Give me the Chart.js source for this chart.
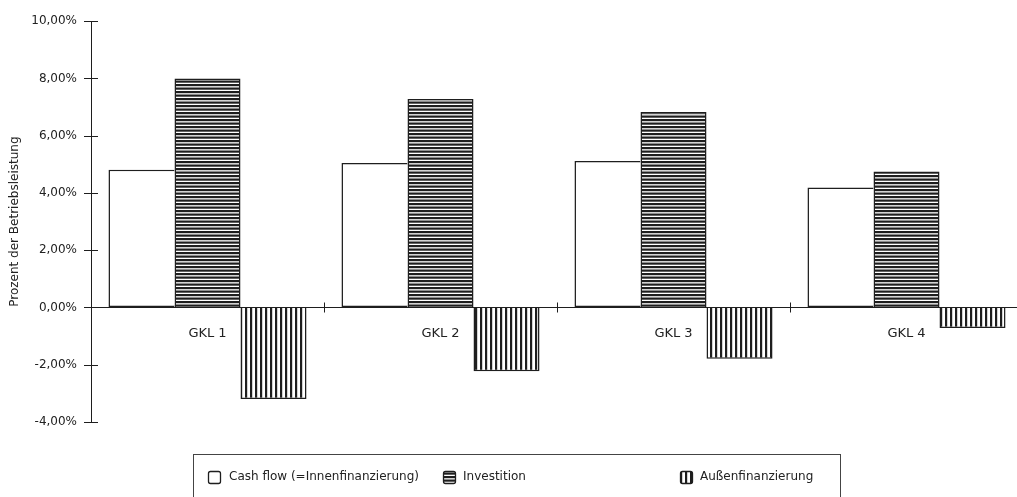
<!DOCTYPE html>
<html>
<head>
<meta charset="utf-8">
<script src="https://cdn.jsdelivr.net/npm/chart.js@4.4.1/dist/chart.umd.min.js"></script>
<style>
  html, body { margin: 0; padding: 0; background: #fff; overflow: hidden; }
  #wrap { position: relative; width: 1023px; height: 497px; }
</style>
</head>
<body>
<div id="wrap"><canvas id="chart"></canvas></div>
<script>
// --- Data ---
const categories = ['GKL 1', 'GKL 2', 'GKL 3', 'GKL 4'];
const seriesNames = ['Cash flow (=Innenfinanzierung)', 'Investition', 'Außenfinanzierung'];
const cashFlow = [4.81, 5.05, 5.12, 4.19];
const investition = [8.00, 7.28, 6.83, 4.75];
const aussenfinanzierung = [-3.20, -2.23, -1.79, -0.72];
const yMin = -4;
const yMax = 10;
const yStep = 2;
const yTitle = 'Prozent der Betriebsleistung';

// --- Styling ---
const ink = '#1e1e1e';
const textColor = '#222';
const fontFamily = '"DejaVu Sans", sans-serif';

const canvas = document.getElementById('chart');
const ctx = canvas.getContext('2d');

// hatch fills like the old b/w print
const makePattern = (w, h, draw) => {
    const c = document.createElement('canvas');
    c.width = w;
    c.height = h;
    const g = c.getContext('2d');
    g.fillStyle = '#fff';
    g.fillRect(0, 0, w, h);
    g.fillStyle = ink;
    draw(g);
    return ctx.createPattern(c, 'repeat');
};
const horizontalHatch = makePattern(8, 7, g => {
    g.fillRect(0, 0, 8, 2.2);
    g.fillRect(0, 3.5, 8, 2.2);
});
const verticalHatch = makePattern(5, 8, g => {
    g.fillRect(0, 0, 2.2, 8);
});

const fmtPercent = v => v.toFixed(2).replace('.', ',') + '%';

// ticks that cross the axis lines
const crossTicks = {
    id: 'crossTicks',
    afterDatasetsDraw(chart) {
        const { ctx, scales: { x, y } } = chart;
        ctx.save();
        ctx.strokeStyle = ink;
        ctx.lineWidth = 1;
        ctx.beginPath();
        y.ticks.forEach(t => {
            const py = Math.round(y.getPixelForValue(t.value)) + 0.5;
            ctx.moveTo(x.left - 7, py);
            ctx.lineTo(x.left + 7, py);
        });
        const zero = Math.round(y.getPixelForValue(0)) + 0.5;
        for (let i = 1; i < categories.length; i++) {
            const px = Math.round((x.getPixelForValue(i - 1) + x.getPixelForValue(i)) / 2) + 0.5;
            ctx.moveTo(px, zero - 5);
            ctx.lineTo(px, zero + 5);
        }
        ctx.stroke();
        ctx.restore();
    }
};

// framed legend at the bottom, items spaced like the original
const legendLayout = { left: 193, top: 454, right: 840, symbolX: [208, 443, 680], textX: [229, 463, 700], midY: 477, size: 12 };
const boxLegend = {
    id: 'boxLegend',
    afterDraw(chart) {
        const { ctx } = chart;
        const L = legendLayout;
        ctx.save();
        ctx.strokeStyle = '#444';
        ctx.lineWidth = 1;
        ctx.strokeRect(L.left + 0.5, L.top + 0.5, L.right - L.left, 60);
        ctx.font = '12px ' + fontFamily;
        ctx.textBaseline = 'middle';
        chart.data.datasets.forEach((ds, i) => {
            const sx = L.symbolX[i] + 0.5;
            const sy = Math.round(L.midY - L.size / 2) + 0.5;
            ctx.beginPath();
            ctx.roundRect(sx, sy, L.size, L.size, 2);
            ctx.fillStyle = ds.backgroundColor;
            ctx.fill();
            ctx.strokeStyle = ink;
            ctx.lineWidth = 1.3;
            ctx.stroke();
            ctx.fillStyle = textColor;
            ctx.fillText(ds.label, L.textX[i], L.midY);
        });
        ctx.restore();
    }
};

const barStyle = { borderColor: ink, borderWidth: 1.5, categoryPercentage: 0.85, barPercentage: 1.0 };

new Chart(canvas, {
    type: 'bar',
    data: {
        labels: categories,
        datasets: [
            // right edge is shared with the Investition bar, draw it only once
            { label: seriesNames[0], data: cashFlow, backgroundColor: '#fff', ...barStyle, borderSkipped: 'right' },
            { label: seriesNames[1], data: investition, backgroundColor: horizontalHatch, ...barStyle },
            { label: seriesNames[2], data: aussenfinanzierung, backgroundColor: verticalHatch, ...barStyle }
        ]
    },
    options: {
        responsive: true,
        maintainAspectRatio: false,
        animation: false,
        layout: { padding: { left: 0, right: 0, top: 20, bottom: 75 } },
        plugins: {
            legend: { display: false },
            tooltip: { enabled: false }
        },
        scales: {
            x: {
                position: { y: 0 },
                grid: { display: true, drawOnChartArea: false, drawTicks: false },
                border: { display: true, color: ink, width: 1 },
                ticks: { color: textColor, font: { family: fontFamily, size: 13 }, padding: 18, maxRotation: 0 }
            },
            y: {
                min: yMin,
                max: yMax,
                afterFit: scale => { scale.width = 91; },
                grid: { display: true, drawOnChartArea: false, drawTicks: false },
                border: { display: true, color: ink, width: 1 },
                ticks: {
                    stepSize: yStep,
                    padding: 14,
                    color: textColor,
                    font: { family: fontFamily, size: 12 },
                    callback: v => fmtPercent(v)
                },
                title: {
                    display: true,
                    text: yTitle,
                    color: textColor,
                    font: { family: fontFamily, size: 12 },
                    padding: { top: 8, bottom: 0 }
                }
            }
        }
    },
    plugins: [crossTicks, boxLegend]
});
</script>
</body>
</html>
